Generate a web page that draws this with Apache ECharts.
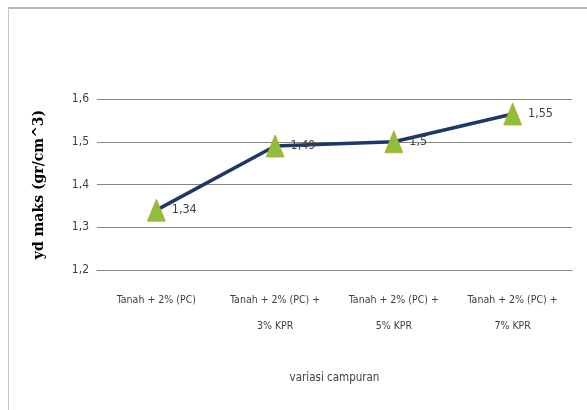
<!DOCTYPE html>
<html><head><meta charset="utf-8">
<script src="https://cdn.jsdelivr.net/npm/echarts@6/dist/echarts.min.js"></script>
<style>
html,body{margin:0;padding:0;background:#fff;}
#frame{position:absolute;left:8px;top:7px;width:600px;height:420px;border-left:1px solid #c8c8c8;border-top:2px solid #b8b8b8;box-sizing:border-box;}
#c{position:absolute;left:0;top:0;width:587px;height:410px;}
</style></head>
<body>
<div id="frame"></div>
<div id="c"></div>
<script>
const categories = ['Tanah + 2% (PC)', 'Tanah + 2% (PC) +\n3% KPR', 'Tanah + 2% (PC) +\n5% KPR', 'Tanah + 2% (PC) +\n7% KPR'];
const values = [1.34, 1.49, 1.5, 1.565];
const valueLabels = ['1,34', '1,49', '1,5', '1,55'];
const yTicks = [1.2, 1.3, 1.4, 1.5, 1.6];

const font = "'Liberation Sans Narrow','DejaVu Sans Condensed','Open Sans',sans-serif";
const chart = echarts.init(document.getElementById('c'), null, {renderer:'canvas'});
chart.setOption({
  backgroundColor: 'transparent',
  animation: false,
  grid: {left: 97, right: 15, top: 99, bottom: 140},
  xAxis: {
    type: 'category',
    data: categories,
    boundaryGap: true,
    name: 'variasi campuran',
    nameLocation: 'middle',
    nameGap: 102,
    nameTextStyle: {fontFamily: font, fontSize: 11.5, color: '#404040'},
    axisLine: {show: true, lineStyle: {color: '#868686', width: 1}},
    axisTick: {show: false},
    axisLabel: {interval: 0, fontFamily: font, fontSize: 10.5, color: '#404040', margin: 17, lineHeight: 26, verticalAlign: 'top'}
  },
  yAxis: {
    type: 'value',
    min: yTicks[0], max: yTicks[yTicks.length-1], interval: 0.1,
    name: 'yd maks (gr/cm^3)',
    nameLocation: 'middle',
    nameGap: 51,
    nameRotate: 90,
    nameTextStyle: {fontFamily: "'DejaVu Serif','Liberation Serif',serif", fontWeight: 'bold', fontSize: 14, color: '#000'},
    axisLine: {show: false},
    axisTick: {show: false},
    splitLine: {lineStyle: {color: '#868686', width: 1}},
    axisLabel: {fontFamily: font, fontSize: 12, color: '#404040', margin: 8,
      formatter: v => v.toFixed(1).replace('.', ',')}
  },
  series: [{
    type: 'line',
    data: values,
    symbol: 'triangle',
    symbolSize: [18, 22],
    itemStyle: {color: '#8dbf3b', borderColor: '#c0a030', borderWidth: 0.8},
    lineStyle: {color: '#1d3868', width: 3.5},
    z: 3,
    label: {
      show: true, position: 'right', distance: 6,
      fontFamily: font, fontSize: 12.5, color: '#404040',
      formatter: p => valueLabels[p.dataIndex]
    }
  }]
});
</script>
</body></html>
